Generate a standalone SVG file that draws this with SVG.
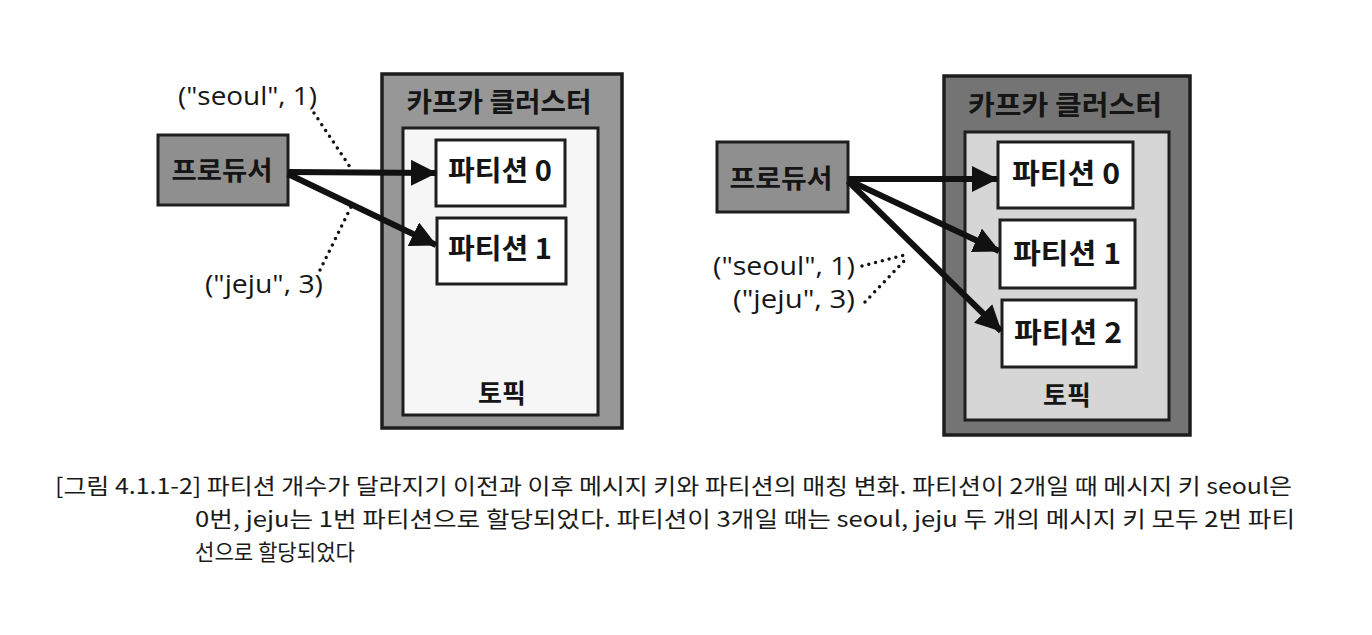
<svg xmlns="http://www.w3.org/2000/svg" width="1372" height="635" viewBox="0 0 1372 635">
<defs>
<marker id="ah" markerUnits="userSpaceOnUse" markerWidth="26" markerHeight="26" viewBox="0 0 26 26" refX="25" refY="13" orient="auto">
<path d="M0,0 L26,13 L0,26 Z" fill="#111"/>
</marker>
<style>
.outerL{fill:#979797;stroke:#1e1e1e;stroke-width:3.5}
.outerR{fill:#747474;stroke:#1e1e1e;stroke-width:3.5}
.innerL{fill:#f6f6f6;stroke:#1e1e1e;stroke-width:3}
.innerR{fill:#d6d6d6;stroke:#1e1e1e;stroke-width:3}
.prod{fill:#8f8f8f;stroke:#1e1e1e;stroke-width:3}
.part{fill:#ffffff;stroke:#1e1e1e;stroke-width:3}
.bold{font-family:"Noto Sans CJK KR","Noto Sans",sans-serif;font-weight:bold;fill:#151515;text-anchor:middle}
.key{font-family:"Open Sans","Noto Sans",sans-serif;font-size:26px;fill:#151515}
.cap{font-family:"Noto Sans CJK KR","Liberation Sans",sans-serif;font-size:22px;fill:#1a1a1a}
.arrow{stroke:#111;stroke-width:6;fill:none;marker-end:url(#ah)}
.dot{stroke:#111;stroke-width:3.5;fill:none;stroke-dasharray:0 7;stroke-linecap:round}
</style>
</defs>
<rect width="1372" height="635" fill="#ffffff"/>

<!-- Left diagram -->
<g id="clusterL">
<rect class="outerL" x="382" y="74" width="240" height="354"/>
<text class="bold" x="499" y="112" font-size="27" textLength="185" lengthAdjust="spacingAndGlyphs">카프카 클러스터</text>
</g>
<g id="topicL">
<rect class="innerL" x="403" y="128" width="195" height="287"/>
<text class="bold" x="502" y="403" font-size="26">토픽</text>
</g>
<g id="partL0">
<rect class="part" x="436" y="140" width="129" height="66"/>
<text class="bold" x="500" y="181" font-size="28" textLength="104" lengthAdjust="spacingAndGlyphs">파티션 0</text>
</g>
<g id="partL1">
<rect class="part" x="437" y="218" width="129" height="66"/>
<text class="bold" x="500" y="259" font-size="28" textLength="104" lengthAdjust="spacingAndGlyphs">파티션 1</text>
</g>
<g id="prodL">
<rect class="prod" x="158" y="135" width="130" height="70"/>
<text class="bold" x="222" y="180" font-size="26" textLength="101" lengthAdjust="spacingAndGlyphs">프로듀서</text>
</g>
<g id="keysL">
<text class="key" x="178" y="105" textLength="139" lengthAdjust="spacingAndGlyphs">("seoul", 1)</text>
<text class="key" x="205" y="293" textLength="118" lengthAdjust="spacingAndGlyphs">("jeju", 3)</text>
</g>

<!-- Right diagram -->
<g id="clusterR">
<rect class="outerR" x="944" y="76" width="246" height="359"/>
<text class="bold" x="1065" y="115" font-size="27" textLength="194" lengthAdjust="spacingAndGlyphs">카프카 클러스터</text>
</g>
<g id="topicR">
<rect class="innerR" x="965" y="132" width="204" height="288"/>
<text class="bold" x="1067" y="405" font-size="26">토픽</text>
</g>
<g id="partR0">
<rect class="part" x="998" y="142" width="135" height="66"/>
<text class="bold" x="1066" y="184" font-size="28" textLength="108" lengthAdjust="spacingAndGlyphs">파티션 0</text>
</g>
<g id="partR1">
<rect class="part" x="1000" y="220" width="135" height="68"/>
<text class="bold" x="1067" y="264" font-size="28" textLength="108" lengthAdjust="spacingAndGlyphs">파티션 1</text>
</g>
<g id="partR2">
<rect class="part" x="1002" y="300" width="134" height="67"/>
<text class="bold" x="1068" y="343" font-size="28" textLength="108" lengthAdjust="spacingAndGlyphs">파티션 2</text>
</g>
<g id="prodR">
<rect class="prod" x="717" y="142" width="131" height="70"/>
<text class="bold" x="781" y="188" font-size="26" textLength="103" lengthAdjust="spacingAndGlyphs">프로듀서</text>
</g>
<g id="keysR">
<text class="key" x="713" y="275" textLength="142" lengthAdjust="spacingAndGlyphs">("seoul", 1)</text>
<text class="key" x="733" y="308" textLength="122" lengthAdjust="spacingAndGlyphs">("jeju", 3)</text>
</g>

<!-- Connectors -->
<g id="connectors">
<line class="arrow" x1="288" y1="172" x2="436" y2="173"/>
<line class="arrow" x1="288" y1="174" x2="436" y2="245"/>
<path class="dot" d="M314,113 L350,167"/>
<path class="dot" d="M320,270 L351,207"/>
<line class="arrow" x1="848" y1="179" x2="997" y2="179"/>
<line class="arrow" x1="848" y1="180" x2="999" y2="251"/>
<line class="arrow" x1="848" y1="181" x2="1001" y2="331"/>
<path class="dot" d="M862,266 L908,254"/>
<path class="dot" d="M865,302 L907,258"/>
</g>

<!-- Caption -->
<g id="caption">
<text class="cap" x="55" y="494" textLength="1237" lengthAdjust="spacingAndGlyphs">[그림 4.1.1-2] 파티션 개수가 달라지기 이전과 이후 메시지 키와 파티션의 매칭 변화. 파티션이 2개일 때 메시지 키 seoul은</text>
<text class="cap" x="195" y="527" textLength="1100" lengthAdjust="spacingAndGlyphs">0번, jeju는 1번 파티션으로 할당되었다. 파티션이 3개일 때는 seoul, jeju 두 개의 메시지 키 모두 2번 파티</text>
<text class="cap" x="195" y="560" textLength="160" lengthAdjust="spacingAndGlyphs">선으로 할당되었다</text>
</g>
</svg>
